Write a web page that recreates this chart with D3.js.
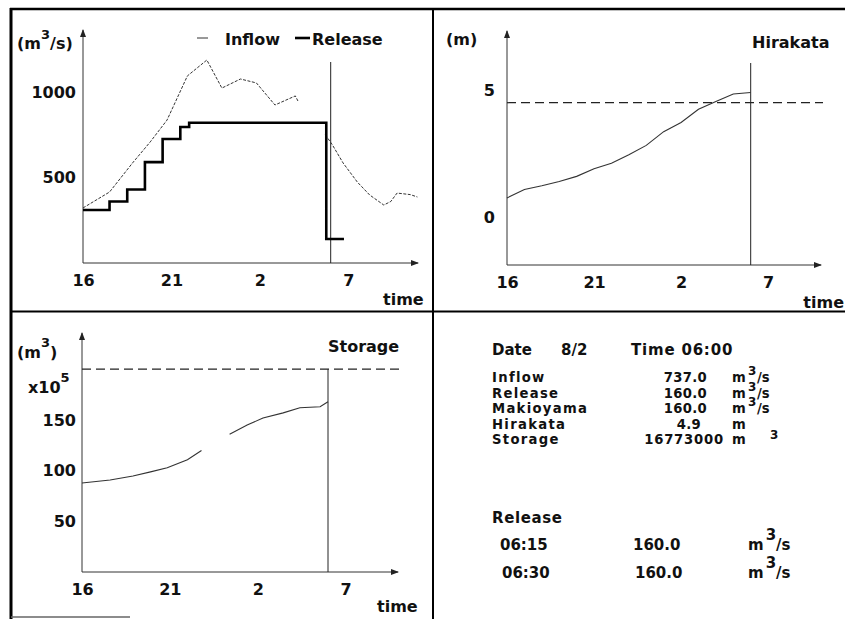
<!DOCTYPE html>
<html>
<head>
<meta charset="utf-8">
<script src="https://cdnjs.cloudflare.com/ajax/libs/d3/7.8.5/d3.min.js"></script>
<style>
  body { margin: 0; background: #fff; }
  svg { display: block; }
  text { font-family: 'DejaVu Sans', sans-serif; font-weight: bold; fill: #111; }
</style>
</head>
<body>
<div id="chart-area"></div>
<script>
// time axis (hours, 24+ = next day)
const xTicks = [16, 21, 26, 31]
const xTickLabels = ["16", "21", "2", "7"]
const nowHour = 30

// Inflow / Release (m3/s)
const inflowHours = [16, 17.5, 18.8, 19.8, 20.75, 21.9, 23, 23.85, 24.9, 25.8, 26.85, 28, 28.15, 29, 29.7, 30.1, 30.7, 31.5, 32.2, 33, 33.4, 33.75, 34.5, 34.9]
const inflow = [322, 415, 585, 708, 836, 1094, 1187, 1023, 1076, 1053, 924, 977, 947, null, 750, 690, 585, 474, 398, 339, 360, 409, 400, 386]
const releaseHours = [16, 17.5, 18.5, 19.5, 20.5, 21.5, 22, 29.75, 30.75]
const release = [310, 360, 430, 590, 725, 795, 820, 140, 140]
const flowTicks = [500, 1000]

// Hirakata water level (m)
const hirakataHours = [16, 17, 18, 19, 20, 21, 22, 23, 24, 25, 26, 27, 28, 29, 30]
const hirakata = [0.75, 1.08, 1.23, 1.4, 1.6, 1.9, 2.12, 2.45, 2.82, 3.36, 3.72, 4.24, 4.55, 4.84, 4.9]
const hirakataWarning = 4.5
const levelTicks = [0, 5]

// Storage (x10^5 m3)
const storageHours = [16, 17.6, 18.9, 19.9, 20.85, 22, 22.8, 23.6, 24.4, 25.4, 26.3, 27.45, 28.4, 29.55, 30]
const storage = [88, 91, 95, 99, 103, 111, 120, null, 136, 145, 152, 157, 162, 163, 168]
const storageCapacity = 200
const storageTicks = [50, 100, 150]

// status table
const infoLabels = ["Inflow", "Release", "Makioyama", "Hirakata", "Storage"]
const infoValues = ["737.0", "160.0", "160.0", "4.9", "16773000"]
const infoPerSecond = [true, true, true, false, false]
const scheduleTimes = ["06:15", "06:30"]
const scheduleValues = ["160.0", "160.0"]

function main() {
  const svg = d3.select("#chart-area").append("svg")
    .attr("width", 845)
    .attr("height", 619)

  svg.append("defs").append("marker")
    .attr("id", "arrow")
    .attr("viewBox", "0 -4 8 8")
    .attr("refX", 7).attr("refY", 0)
    .attr("markerWidth", 8).attr("markerHeight", 8)
    .attr("markerUnits", "userSpaceOnUse")
    .attr("orient", "auto")
    .append("path").attr("d", "M0,-3L8,0L0,3").attr("fill", "#222")

  // frame
  const frame = svg.append("g").attr("stroke", "#000")
  frame.append("line").attr("x1", 10).attr("x2", 845).attr("y1", 9).attr("y2", 9).attr("stroke-width", 2.5)
  frame.append("line").attr("x1", 11).attr("x2", 11).attr("y1", 8).attr("y2", 619).attr("stroke-width", 3)
  frame.append("line").attr("x1", 433).attr("x2", 433).attr("y1", 9).attr("y2", 619).attr("stroke-width", 2)
  frame.append("line").attr("x1", 11).attr("x2", 845).attr("y1", 311.5).attr("y2", 311.5).attr("stroke-width", 2)
  frame.append("line").attr("x1", 11).attr("x2", 130).attr("y1", 617).attr("y2", 617).attr("stroke-width", 1.5).attr("stroke", "#666")

  function axes(x, y, axisY, xEnd, yTop, yTicks, yPad) {
    const x0 = x(16)
    svg.append("g")
      .attr("transform", `translate(0, ${axisY})`)
      .call(d3.axisBottom(x).tickValues(xTicks).tickFormat((d, i) => xTickLabels[i]).tickSize(0).tickPadding(12))
      .attr("font-size", 16)
      .call(g => g.select(".domain").remove())
    svg.append("g")
      .attr("transform", `translate(${x0}, 0)`)
      .call(d3.axisLeft(y).tickValues(yTicks).tickFormat(d3.format("d")).tickSize(0).tickPadding(yPad))
      .attr("font-size", 16)
      .call(g => g.select(".domain").remove())
    svg.append("line")
      .attr("x1", x0).attr("y1", axisY).attr("x2", xEnd).attr("y2", axisY)
      .attr("stroke", "#333").attr("stroke-width", 1).attr("marker-end", "url(#arrow)")
    svg.append("line")
      .attr("x1", x0).attr("y1", axisY).attr("x2", x0).attr("y2", yTop)
      .attr("stroke", "#333").attr("stroke-width", 1).attr("marker-end", "url(#arrow)")
  }

  function label(x, y, str, size) {
    return svg.append("text").attr("x", x).attr("y", y).attr("font-size", size || 16).text(str)
  }

  //---------- Inflow / Release ----------
  const x1 = d3.scaleLinear().domain([16, 30]).range([83, 330.7])
  const y1 = d3.scaleLinear().domain([0, 1000]).range([263, 92])
  axes(x1, y1, 263, 418, 30, flowTicks, 7)

  svg.append("line")
    .attr("x1", x1(nowHour)).attr("x2", x1(nowHour))
    .attr("y1", 62).attr("y2", 263)
    .attr("stroke", "#222").attr("stroke-width", 1)

  const inflowLine = d3.line()
    .defined(d => d[1] !== null)
    .x(d => x1(d[0])).y(d => y1(d[1]))
  svg.append("path")
    .datum(inflowHours.map((h, i) => [h, inflow[i]]))
    .attr("d", inflowLine)
    .attr("fill", "none").attr("stroke", "#333").attr("stroke-width", 1)
    .attr("stroke-dasharray", "3,1.5")

  const releaseLine = d3.line().curve(d3.curveStepAfter)
    .x(d => x1(d[0])).y(d => y1(d[1]))
  svg.append("path")
    .datum(releaseHours.map((h, i) => [h, release[i]]))
    .attr("d", releaseLine)
    .attr("fill", "none").attr("stroke", "#000").attr("stroke-width", 2.6)

  // legend
  svg.append("line").attr("x1", 197).attr("x2", 208).attr("y1", 38).attr("y2", 38)
    .attr("stroke", "#333").attr("stroke-width", 1)
  label(225, 45, "Inflow")
  svg.append("line").attr("x1", 295).attr("x2", 310).attr("y1", 38).attr("y2", 38)
    .attr("stroke", "#000").attr("stroke-width", 2.6)
  label(312, 45, "Release")

  const u1 = label(17, 49, "(m")
  u1.append("tspan").attr("font-size", 13).attr("dy", -10).text("3")
  u1.append("tspan").attr("dy", 10).text("/s)")
  label(383, 305, "time")

  //---------- Hirakata ----------
  const x2 = d3.scaleLinear().domain([16, 30]).range([507, 750.7])
  const y2 = d3.scaleLinear().domain([0, 5]).range([217, 90])
  axes(x2, y2, 265, 821, 31, levelTicks, 12)

  svg.append("line")
    .attr("x1", x2(16)).attr("x2", 823)
    .attr("y1", y2(hirakataWarning)).attr("y2", y2(hirakataWarning))
    .attr("stroke", "#222").attr("stroke-width", 1.2).attr("stroke-dasharray", "9,5")
  svg.append("line")
    .attr("x1", x2(nowHour)).attr("x2", x2(nowHour))
    .attr("y1", 63).attr("y2", 265)
    .attr("stroke", "#222").attr("stroke-width", 1)

  const levelLine = d3.line().x((d, i) => x2(hirakataHours[i])).y(d => y2(d))
  svg.append("path")
    .datum(hirakata)
    .attr("d", levelLine)
    .attr("fill", "none").attr("stroke", "#333").attr("stroke-width", 1.1)

  label(446, 45, "(m)")
  label(752, 48, "Hirakata")
  label(844, 308, "time").attr("text-anchor", "end")

  //---------- Storage ----------
  const x3 = d3.scaleLinear().domain([16, 30]).range([82, 328])
  const y3 = d3.scaleLinear().domain([0, 150]).range([572.5, 420])
  axes(x3, y3, 572, 398, 333, storageTicks, 6)

  svg.append("line")
    .attr("x1", x3(16)).attr("x2", 400)
    .attr("y1", y3(storageCapacity)).attr("y2", y3(storageCapacity))
    .attr("stroke", "#222").attr("stroke-width", 1.2).attr("stroke-dasharray", "9,5")
  svg.append("line")
    .attr("x1", x3(nowHour)).attr("x2", x3(nowHour))
    .attr("y1", y3(storageCapacity)).attr("y2", 572)
    .attr("stroke", "#222").attr("stroke-width", 1)

  const storageLine = d3.line()
    .defined(d => d[1] !== null)
    .x(d => x3(d[0])).y(d => y3(d[1]))
  svg.append("path")
    .datum(storageHours.map((h, i) => [h, storage[i]]))
    .attr("d", storageLine)
    .attr("fill", "none").attr("stroke", "#333").attr("stroke-width", 1.1)

  const u3 = label(17, 358, "(m")
  u3.append("tspan").attr("font-size", 13).attr("dy", -11).text("3")
  u3.append("tspan").attr("dy", 11).text(")")
  const e5 = label(28, 393, "x10")
  e5.append("tspan").attr("font-size", 13).attr("dy", -11).text("5")
  label(328, 352, "Storage")
  label(377, 612, "time").attr("font-weight", "normal").attr("fill", "#444")

  //---------- Status table ----------
  const rowY = [382, 397.5, 413, 428.5, 444]
  label(492, 355, "Date", 15)
  label(561, 355, "8/2", 15)
  label(631, 355, "Time 06:00", 15).attr("letter-spacing", 0.8)

  infoLabels.forEach((name, i) => {
    label(492, rowY[i], name, 13.2).attr("letter-spacing", 1.3)
    label(i === 3 ? 701 : (i === 4 ? 724 : 707), rowY[i], infoValues[i], 13.2)
      .attr("text-anchor", "end").attr("letter-spacing", i === 4 ? 0.8 : 0.3)
    label(732, rowY[i], "m", 13.2)
    if (infoPerSecond[i]) {
      label(748, rowY[i] - 7, "3", 12)
      label(757, rowY[i], "/s", 13.2)
    }
  })
  // storage unit exponent sits away from the m
  label(770, rowY[4] - 5, "3", 12)

  label(492, 523, "Release", 15).attr("letter-spacing", 0.6)
  scheduleTimes.forEach((t, i) => {
    const yy = 550 + i * 28
    label(500 + i * 2, yy, t, 15).attr("font-weight", "normal")
    label(633 + i * 2, yy, scheduleValues[i], 15).attr("font-weight", "normal")
    const u = label(748, yy, "m", 15).attr("font-weight", "normal")
    u.append("tspan").attr("font-size", 15).attr("dx", 2).attr("dy", -10).text("3")
    u.append("tspan").attr("dy", 10).text("/s")
  })
}

main()
</script>
</body>
</html>
